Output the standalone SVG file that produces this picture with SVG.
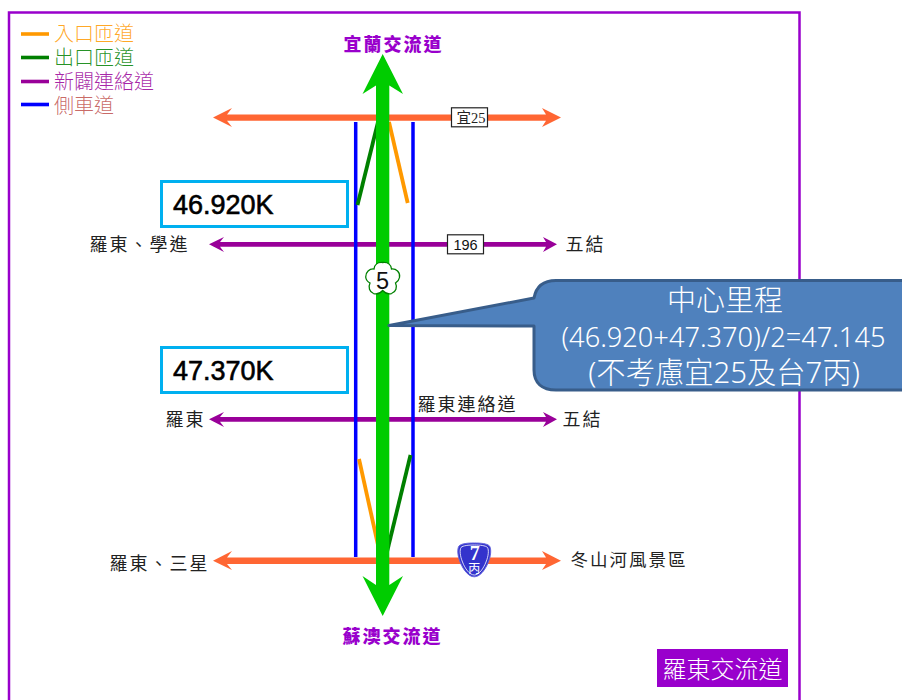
<svg xmlns="http://www.w3.org/2000/svg" width="902" height="700" viewBox="0 0 902 700">
<style>
text{font-family:"Liberation Sans","Noto Sans CJK TC",sans-serif}
.cjk{font-family:"Noto Sans CJK TC",sans-serif}
.lg{font-size:20px;font-weight:300;fill-opacity:.85}
.lb{font-size:18px;letter-spacing:2px;fill:#222;font-weight:400}
.ic{font-size:18px;letter-spacing:2px;fill:#9900cc;font-weight:900}
.km{font-size:27px;fill:#000;stroke:#000;stroke-width:.6}
.kb{fill:#fff;stroke:#00b0f0;stroke-width:3}
.tag{fill:#fff;stroke:#222;stroke-width:1.2}
.co{fill:#fff;font-weight:300}
</style>
<rect x="0" y="0" width="902" height="700" fill="#fff"/>
<path id="frame" d="M9 700V12.500H799.500V700" fill="none" stroke="#9900cc" stroke-width="2.500"/>
<g id="legend">
<path d="M21 34H49" stroke="#ff9900" stroke-width="3.600"/>
<path d="M21 57.500H49" stroke="#008000" stroke-width="3.600"/>
<path d="M21 81.500H49" stroke="#990099" stroke-width="3.600"/>
<path d="M21 104.500H49" stroke="#0000ff" stroke-width="3.600"/>
<text class="cjk lg" x="54" y="41" fill="#ff9900">入口匝道</text>
<text class="cjk lg" x="54" y="65" fill="#008000">出口匝道</text>
<text class="cjk lg" x="54" y="89" fill="#990099">新闢連絡道</text>
<text class="cjk lg" x="54" y="113" fill="#c0504d">側車道</text>
</g>
<g id="connectors">
<path id="road-yi25" fill="#ff6633" d="M213 117.500L232 108L227 114.500H546L542 108L561 117.500L542 127L546 120.800H227L232 127Z"/>
<path id="road-bottom" fill="#ff6633" d="M213 560.700L232 551L227 557.500H546L542 551L561 560.700L542 570L546 564H227L232 570Z"/>
<path id="road-196" fill="#990099" d="M209 244.300L224 237L220 242H546L543 237L557 244.300L543 252L546 246.700H220L224 252Z"/>
<path id="road-link" fill="#990099" d="M209 419.300L224 412L220 417H546L543 412L557 419.300L543 427L546 421.700H220L224 427Z"/>
<path id="side-left" d="M355.700 122V557" stroke="#0000ff" stroke-width="3.500"/>
<path id="side-right" d="M413 122V557" stroke="#0000ff" stroke-width="3.500"/>
<path id="ramp-ne" d="M389 122L407.700 203" stroke="#ff9900" stroke-width="3.800"/>
<path id="ramp-nw" d="M357.500 205L378 122" stroke="#008000" stroke-width="3.800"/>
<path id="ramp-sw" d="M359 459L378 545" stroke="#ff9900" stroke-width="3.800"/>
<path id="ramp-se" d="M410.500 455L387 552" stroke="#008000" stroke-width="3.800"/>
<path id="freeway" fill="#00cc00" d="M382.700 54L403 94L389.300 85.500V585L403 576L382.700 616L362.500 576L376 585V85.500L362.500 94Z"/>
</g>
<g id="label-yilan"><text class="cjk ic" x="343.500" y="51">宜蘭交流道</text></g>
<g id="label-suao"><text class="cjk ic" x="342.500" y="643">蘇澳交流道</text></g>
<g id="tag-yi25"><rect class="tag" x="451.500" y="107.800" width="36" height="19"/><text x="456.500" y="123" font-size="14.500" fill="#222" style="font-family:'Liberation Serif','Noto Sans CJK TC',serif">宜25</text></g>
<g id="tag-196"><rect class="tag" x="447.500" y="234.800" width="36" height="19"/><text x="465.500" y="249.500" text-anchor="middle" font-size="14.500" fill="#111">196</text></g>
<g id="box-46920"><rect class="kb" x="161.500" y="181.500" width="186" height="45"/><text class="km" x="173" y="214">46.920K</text></g>
<g id="box-47370"><rect class="kb" x="161.500" y="347.500" width="186" height="45"/><text class="km" x="173" y="380">47.370K</text></g>
<g id="label-luodong-xuejin"><text class="cjk lb" x="89.500" y="251">羅東、學進</text></g>
<g id="label-wujie-1"><text class="cjk lb" x="565.500" y="251">五結</text></g>
<g id="label-luodong"><text class="cjk lb" x="165.500" y="426">羅東</text></g>
<g id="label-link"><text class="cjk lb" x="417.500" y="410.500">羅東連絡道</text></g>
<g id="label-wujie-2"><text class="cjk lb" x="562.500" y="425.500">五結</text></g>
<g id="label-sanxing"><text class="cjk lb" x="109.500" y="570">羅東、三星</text></g>
<g id="label-dongshan"><text class="cjk lb" x="570.500" y="566" style="font-size:17.500px;letter-spacing:2px">冬山河風景區</text></g>
<g id="shield-5">
<path d="M382.700 262.500C388 262 391 265 391.500 269C396 268.500 400.500 272 399.500 277.500C399 280.500 397 282 395.500 283C397.500 287 396 292 391.500 293.500C388 294.500 385 293 382.700 290.500C380.500 293 377 294.500 373.500 293.500C369.500 292 368 287 370 283C368 282 366 280 365.700 277C365.500 272 369.500 268.500 374 269C374.500 265 377.500 262 382.700 262.500Z" fill="#fff" stroke="#008000" stroke-width="1.300"/>
<text x="382.500" y="288.500" text-anchor="middle" font-size="23.500" fill="#111">5</text>
</g>
<g id="shield-7">
<path d="M474.300 543C481 543 487 543.500 489.500 546C491.500 549 491 556 488 563C485 570 480 576.800 474.300 576.800C468.500 576.800 463.500 570 460.500 563C457.500 556 457 549 459 546C461.500 543.500 467.500 543 474.300 543Z" fill="#3333cc" stroke="#6666dd" stroke-width="1"/>
<path d="M474.300 545C480 545 485.500 545.500 487.500 547.500C489 550 488.500 556 486 562C483.500 568.500 479 575 474.300 575C469.500 575 465 568.500 462.500 562C460 556 459.500 550 461 547.500C463 545.500 468.500 545 474.300 545Z" fill="none" stroke="#fff" stroke-width=".8"/>
<text x="474.800" y="560" text-anchor="middle" font-size="20" font-weight="700" fill="#fff" style="font-family:'Liberation Serif',serif">7</text>
<text class="cjk" x="474.300" y="573" text-anchor="middle" font-size="12" fill="#fff">丙</text>
</g>
<g id="callout">
<path d="M389 325.500L534 298C536 287 543 280.500 556 280.500H910V390H556C542 390 534 383 534 370V326Z" fill="#4f81bd" stroke="#385d8a" stroke-width="3" stroke-linejoin="round"/>
<text class="cjk co" x="725" y="311" text-anchor="middle" font-size="29">中心里程</text>
<text class="co" x="723.500" y="346.500" text-anchor="middle" font-size="27.200" style="font-family:'Noto Sans','Noto Sans CJK TC',sans-serif">(46.920+47.370)/2=47.145</text>
<text class="co" x="724" y="383" text-anchor="middle" font-size="29.300" style="font-family:'Noto Sans','Noto Sans CJK TC',sans-serif">(不考慮宜25及台7丙)</text>
</g>
<g id="badge-luodong">
<rect x="657" y="649" width="131" height="38" fill="#9900cc"/>
<text class="cjk" x="722.500" y="678" text-anchor="middle" font-size="24" font-weight="300" fill="#fff">羅東交流道</text>
</g>
</svg>
